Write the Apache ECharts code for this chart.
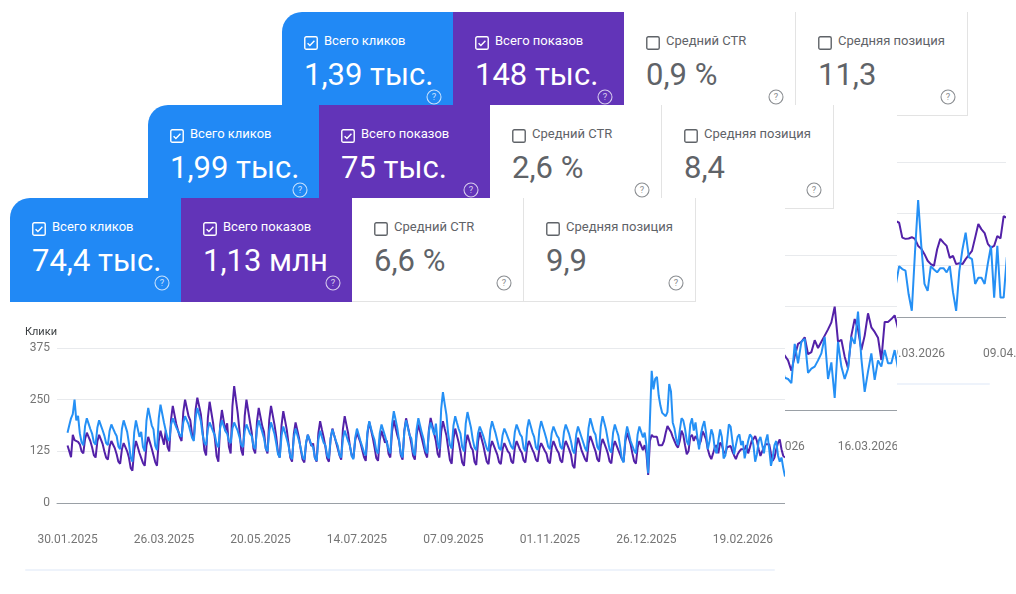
<!DOCTYPE html>
<html>
<head>
<meta charset="utf-8">
<script src="https://cdn.jsdelivr.net/npm/echarts@6/dist/echarts.min.js"></script>
<style>
  body { margin: 0; background: #fff; font-family: Roboto, "Noto Sans", sans-serif; }
  .page { position: relative; width: 1016px; height: 594px; overflow: hidden; background: #fff; }
  .layer { position: absolute; background: #fff; overflow: hidden; height: 373px; }
  .card { position: absolute; top: 0; height: 104px; box-sizing: border-box; }
  .card.clicks { background: #2189f5; color: #fff; border-top-left-radius: 20px; }
  .card.impr { background: #6234b8; color: #fff; }
  .card.plain { background: #fff; color: #5f6368; border-right: 1px solid #e3e3e3; border-bottom: 1px solid #e3e3e3; }
  .cb { position: absolute; left: 22px; top: 23px; width: 14px; height: 14px; }
  .title { position: absolute; left: 42px; top: 21px; font-size: 13px; line-height: 16px; white-space: nowrap; }
  .val { position: absolute; left: 22px; top: 44px; font-size: 31px; line-height: 38px; white-space: nowrap; }
  .help { position: absolute; left: 144px; top: 77px; width: 16px; height: 16px; }
  .chart { position: absolute; left: 0; top: 104px; height: 269px; }
  .foot { position: absolute; left: 15px; bottom: 0; height: 2px; background: #eef3fb; border-radius: 2px; }
</style>
</head>
<body>
<div class="page">
  <div class="layer" id="back" style="left:282px; top:12px; width:740px; z-index:1">
    <div class="chart" id="backChart" style="width:740px"></div>
    <div class="foot" style="right:32px"></div>
  </div>
  <div class="layer" id="mid" style="left:148px; top:105px; width:749px; z-index:2">
    <div class="chart" id="midChart" style="width:751px"></div>
  </div>
  <div class="layer" id="front" style="left:10px; top:198px; width:775px; z-index:3">
    <div class="chart" id="frontChart" style="width:775px"></div>
    <div class="foot" style="right:10px"></div>
  </div>
</div>

<script>
// карточки
const cardTitles = ["Всего кликов", "Всего показов", "Средний CTR", "Средняя позиция"];
const frontCardValues = ["74,4 тыс.", "1,13 млн", "6,6 %", "9,9"];
const midCardValues = ["1,99 тыс.", "75 тыс.", "2,6 %", "8,4"];
const backCardValues = ["1,39 тыс.", "148 тыс.", "0,9 %", "11,3"];

// подписи оси X
const frontTicks = ["30.01.2025", "26.03.2025", "20.05.2025", "14.07.2025", "07.09.2025", "01.11.2025", "26.12.2025", "19.02.2026"];
const midTicks = ["16.02.2026", "16.03.2026"];
const backTicks = ["09.03.2026", "09.04.2026"];
const yTicks = [0, 125, 250, 375];

// передний график: клики по дням с 30.01.2025
const frontClicks = [
  170, 188, 205, 215, 250, 200, 211,
  169, 147, 140, 186, 205, 192, 179,
  168, 147, 141, 182, 200, 188, 176,
  163, 145, 140, 175, 190, 180, 170,
  162, 137, 130, 179, 200, 186, 172,
  145, 110, 100, 170, 200, 180, 160,
  172, 136, 125, 199, 230, 209, 188,
  178, 139, 128, 205, 238, 216, 194,
  175, 156, 150, 189, 205, 194, 183,
  183, 165, 160, 195, 210, 200, 190,
  186, 158, 150, 206, 230, 214, 198,
  165, 146, 140, 179, 195, 184, 173,
  164, 142, 135, 181, 200, 187, 174,
  168, 150, 145, 180, 195, 185, 175,
  160, 141, 135, 174, 190, 179, 168,
  162, 137, 130, 179, 200, 186, 172,
  157, 132, 125, 174, 195, 181, 167,
  144, 118, 110, 163, 185, 170, 155,
  139, 113, 106, 158, 180, 165, 150,
  132, 111, 105, 147, 165, 153, 141,
  135, 109, 102, 153, 175, 160, 146,
  140, 115, 108, 157, 178, 164, 150,
  139, 117, 110, 156, 175, 162, 149,
  139, 113, 106, 158, 180, 165, 150,
  152, 123, 115, 173, 198, 181, 165,
  152, 127, 120, 169, 190, 176, 162,
  166, 130, 120, 191, 222, 202, 181,
  151, 119, 110, 173, 200, 182, 164,
  156, 124, 115, 178, 205, 187, 169,
  154, 128, 120, 173, 195, 180, 165,
  192, 144, 130, 227, 268, 240, 213,
  167, 140, 132, 187, 210, 194, 179,
  168, 135, 125, 192, 220, 201, 182,
  154, 134, 128, 168, 185, 174, 162,
  158, 132, 125, 176, 198, 183, 169,
  151, 133, 128, 164, 180, 170, 159,
  157, 136, 130, 172, 190, 178, 166,
  160, 133, 125, 179, 202, 187, 171,
  160, 135, 128, 177, 198, 184, 170,
  155, 136, 130, 169, 185, 174, 163,
  157, 136, 130, 172, 190, 178, 166,
  149, 127, 120, 166, 185, 172, 159,
  161, 133, 125, 181, 205, 189, 173,
  165, 136, 128, 185, 210, 194, 177,
  153, 129, 122, 170, 190, 176, 163,
  137, 107, 98, 159, 185, 168, 150,
  149, 127, 120, 166, 185, 172, 159,
  170, 140, 72, 200, 320, 275, 300,
  305, 260, 235, 218, 215, 210, 220,
  288, 270, 195, 180, 155, 140, 175,
  205, 200, 180, 150, 140, 190, 205,
  175, 195, 160, 130, 165, 185, 198,
  170, 130, 150, 178, 165, 130, 120,
  150, 178, 160, 108, 115, 150, 190,
  185, 150, 118, 140, 160, 166, 140,
  150, 108, 104, 150, 166, 160, 140,
  100, 118, 150, 160, 140, 120, 150,
  166, 130, 90, 110, 140, 150, 115,
  100, 110, 85, 64
];

// передний график: показы (своя скрытая шкала)
const frontImpressions = [
  139, 125, 111, 165, 152, 150, 148,
  142, 125, 120, 155, 170, 160, 150,
  135, 116, 110, 149, 165, 154, 143,
  125, 110, 105, 137, 150, 141, 132,
  118, 100, 95, 130, 145, 135, 125,
  110, 85, 78, 128, 150, 136, 121,
  122, 97, 90, 139, 160, 146, 132,
  128, 99, 90, 150, 175, 158, 141,
  175, 136, 125, 202, 235, 213, 191,
  195, 160, 150, 220, 250, 230, 210,
  200, 165, 155, 225, 255, 235, 215,
  174, 128, 115, 206, 245, 219, 193,
  156, 113, 100, 188, 225, 200, 175,
  193, 136, 120, 234, 283, 250, 218,
  176, 129, 115, 210, 250, 223, 196,
  170, 131, 120, 197, 230, 208, 186,
  172, 132, 120, 201, 235, 212, 189,
  160, 121, 110, 188, 222, 200, 177,
  143, 110, 100, 167, 195, 176, 157,
  128, 105, 98, 145, 165, 152, 138,
  144, 110, 100, 169, 198, 178, 159,
  136, 108, 100, 156, 180, 164, 148,
  152, 116, 105, 179, 210, 189, 168,
  137, 116, 110, 152, 170, 158, 146,
  144, 111, 102, 168, 196, 177, 158,
  135, 109, 102, 153, 175, 160, 146,
  151, 119, 110, 173, 200, 182, 164,
  150, 115, 105, 175, 205, 185, 165,
  143, 114, 105, 165, 190, 173, 156,
  153, 120, 110, 177, 206, 187, 168,
  150, 119, 110, 172, 198, 180, 163,
  133, 104, 95, 155, 180, 163, 146,
  124, 98, 90, 143, 165, 150, 135,
  128, 100, 92, 148, 172, 156, 140,
  119, 100, 94, 133, 150, 139, 128,
  117, 99, 94, 130, 145, 135, 125,
  120, 101, 96, 134, 150, 139, 128,
  121, 103, 98, 134, 150, 140, 129,
  120, 105, 100, 132, 145, 136, 127,
  120, 101, 96, 134, 150, 139, 128,
  121, 103, 98, 134, 150, 140, 129,
  117, 91, 84, 136, 158, 143, 128,
  128, 106, 100, 143, 162, 150, 137,
  125, 106, 100, 139, 155, 144, 133,
  120, 101, 96, 134, 150, 139, 128,
  132, 107, 100, 149, 170, 156, 142,
  120, 101, 95, 134, 150, 139, 128,
  140, 120, 68, 150, 165, 160, 158,
  160, 140, 138, 140, 150, 170, 186,
  185, 172, 160, 150, 140, 134, 150,
  175, 165, 140, 118, 125, 160, 165,
  150, 162, 155, 140, 150, 174, 165,
  154, 130, 115, 106, 120, 135, 140,
  120, 146, 140, 125, 120, 135, 138,
  138, 125, 115, 106, 118, 125, 130,
  128, 130, 140, 120, 135, 150, 155,
  162, 150, 130, 114, 125, 135, 142,
  140, 142, 120, 102, 110, 130, 145,
  154, 130, 114, 110
];

// средний график: видимый хвост (с 20.02.2026)
const midClicks = [110, 78, 75, 65, 160, 113, 165, 172, 90, 100, 105, 120, 137, 177, 75, 115, 29, 165,
  105, 75, 100, 177, 160, 238, 125, 44, 93, 137, 73, 120, 105, 145, 113, 113, 145, 101];
const midImpressions = [140, 132, 120, 95, 130, 160, 165, 176, 135, 140, 169, 150, 165, 180, 195, 212, 250, 165,
  170, 129, 101, 180, 220, 195, 145, 180, 234, 200, 189, 175, 121, 213, 213, 220, 229, 197];

// задний график: видимый хвост (с 04.03.2026)
const backClicks = [100, 80, 123, 116, 112, 55, 15, 156, 283, 172, 80, 63, 123, 115, 108, 118, 118, 108, 123,
  60, 15, 111, 164, 204, 145, 140, 80, 95, 95, 80, 129, 172, 47, 172, 47, 47, 145];
const backImpressions = [230, 232, 228, 192, 189, 190, 193, 189, 172, 165, 152, 136, 128, 124, 164, 189, 180, 172, 143,
  148, 128, 130, 128, 140, 150, 160, 192, 225, 212, 203, 177, 168, 172, 196, 190, 244, 240];

function pad2(n) { return n < 10 ? "0" + n : "" + n; }
function dayLabels(y, m, d, n) {
  const out = [];
  const t0 = Date.UTC(y, m - 1, d);
  for (let i = 0; i < n; i++) {
    const dt = new Date(t0 + i * 864e5);
    out.push(pad2(dt.getUTCDate()) + "." + pad2(dt.getUTCMonth() + 1) + "." + dt.getUTCFullYear());
  }
  return out;
}
function nulls(n) { return new Array(n).fill(null); }

const frontDays = dayLabels(2025, 1, 24, 416);
const midDays = dayLabels(2025, 8, 26, 212);
const backDays = dayLabels(2025, 9, 5, 219);

// карточки
const checkOn = '<svg viewBox="0 0 18 18"><rect x="1" y="1" width="16" height="16" rx="2" fill="none" stroke="currentColor" stroke-width="1.8"/><path d="M4.6 9.3l3 3 5.8-6.2" fill="none" stroke="currentColor" stroke-width="1.8"/></svg>';
const checkOff = '<svg viewBox="0 0 18 18"><rect x="1" y="1" width="16" height="16" rx="2" fill="none" stroke="#5f6368" stroke-width="1.8"/></svg>';
function helpIcon(color) {
  return '<svg viewBox="0 0 24 24"><circle cx="12" cy="12" r="10.5" fill="none" stroke="' + color + '" stroke-width="1.6"/>' +
    '<text x="12" y="17" text-anchor="middle" font-size="14" font-family="Roboto" fill="' + color + '">?</text></svg>';
}
const cardLeft = [0, 171, 342, 514];
const cardWidth = [171, 171, 172, 172];
const cardKind = ["clicks", "impr", "plain", "plain"];

function addCards(layerId, values) {
  const layer = document.getElementById(layerId);
  values.forEach((v, i) => {
    const c = document.createElement("div");
    c.className = "card " + cardKind[i];
    c.style.left = cardLeft[i] + "px";
    c.style.width = cardWidth[i] + "px";
    const on = i < 2;
    c.innerHTML =
      '<div class="cb">' + (on ? checkOn : checkOff) + '</div>' +
      '<div class="title">' + cardTitles[i] + '</div>' +
      '<div class="val">' + v + '</div>' +
      '<div class="help">' + helpIcon(on ? "rgba(255,255,255,0.75)" : "#8a8d91") + '</div>';
    layer.appendChild(c);
  });
}
addCards("back", backCardValues);
addCards("mid", midCardValues);
addCards("front", frontCardValues);

function makeOption(days, ticks, clicks, impr, gridRight) {
  return {
    animation: false,
    grid: { left: 47, right: gridRight, top: 46, height: 155, containLabel: false, outerBoundsMode: "none" },
    xAxis: {
      type: "category",
      data: days,
      boundaryGap: false,
      axisLine: { lineStyle: { color: "#9aa0a6", width: 1 } },
      axisTick: { show: false },
      axisLabel: {
        interval: (i, v) => ticks.includes(v),
        color: "#757575",
        fontSize: 12,
        margin: 31,
        fontFamily: "Roboto"
      },
      splitLine: { show: false }
    },
    yAxis: [
      {
        type: "value",
        min: yTicks[0],
        max: yTicks[yTicks.length - 1],
        interval: yTicks[1] - yTicks[0],
        name: "Клики",
        nameLocation: "end",
        nameGap: 16,
        nameTextStyle: { align: "right", verticalAlign: "middle", color: "#3c4043", fontSize: 11, fontFamily: "Roboto" },
        axisLine: { show: false },
        axisTick: { show: false },
        axisLabel: { color: "#757575", fontSize: 12, margin: 7, fontFamily: "Roboto" },
        splitLine: { lineStyle: { color: "#e8eaed" } }
      },
      { type: "value", min: 0, max: 375, show: false }
    ],
    series: [
      {
        name: "Показы",
        type: "line",
        yAxisIndex: 1,
        data: impr,
        showSymbol: false,
        lineStyle: { width: 2, color: "#5321a8" },
        itemStyle: { color: "#5321a8" }
      },
      {
        name: "Клики",
        type: "line",
        data: clicks,
        showSymbol: false,
        lineStyle: { width: 2, color: "#2590f5" },
        itemStyle: { color: "#2590f5" }
      }
    ]
  };
}

const frontChart = echarts.init(document.getElementById("frontChart"));
frontChart.setOption(makeOption(frontDays, frontTicks,
  nulls(6).concat(frontClicks), nulls(6).concat(frontImpressions), 0));

const midChart = echarts.init(document.getElementById("midChart"));
midChart.setOption(makeOption(midDays, midTicks,
  nulls(176).concat(midClicks), nulls(176).concat(midImpressions), 1));

const backChart = echarts.init(document.getElementById("backChart"));
const backOption = makeOption(backDays, backTicks,
  nulls(178).concat(backClicks, nulls(4)), nulls(178).concat(backImpressions, nulls(4)), 2.5);
// справа от графика сетка обрывается раньше подписей
backOption.graphic = [{
  type: "rect", left: 724, top: 38, z: 100,
  shape: { width: 30, height: 170 }, style: { fill: "#fff" }
}];
backChart.setOption(backOption);
</script>
</body>
</html>
